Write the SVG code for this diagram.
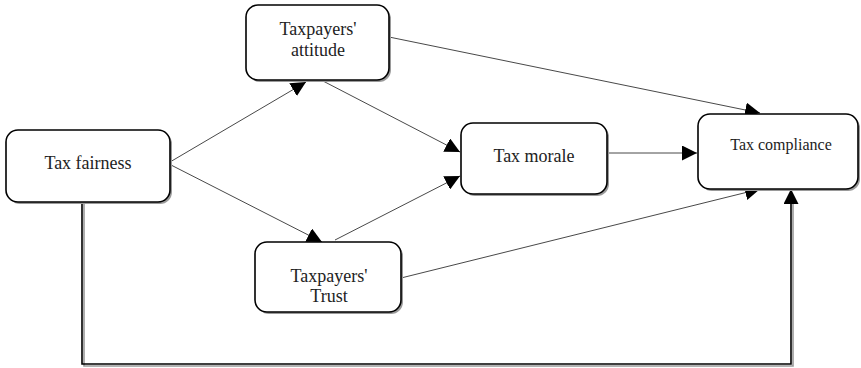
<svg xmlns="http://www.w3.org/2000/svg" width="861" height="368" viewBox="0 0 861 368">
<defs>
<style>
.box{fill:#fff;stroke:#000;stroke-width:1.6}
.sh{fill:#9a9a9a}
text{font-family:'Liberation Serif','Times New Roman',Tinos,'DejaVu Serif',serif;font-size:18px;fill:#222;text-anchor:middle}
.ts{font-size:16px}
.c{fill:none;stroke:#333;stroke-width:0.9}
.e{fill:none;stroke:#000;stroke-width:1.6}
.es{fill:none;stroke:#9a9a9a;stroke-width:1.6}
</style>
<marker id="ah" viewBox="0 0 10 10" refX="10" refY="5" markerWidth="15" markerHeight="15" markerUnits="userSpaceOnUse" orient="auto">
<path d="M0,0 L10,5 L0,10 Z" fill="#000"/>
</marker>
</defs>
<rect width="861" height="368" fill="#fff"/>
<g id="connectors">
<line class="c" x1="170" y1="162" x2="306" y2="82" marker-end="url(#ah)"/>
<line class="c" x1="171" y1="165" x2="322" y2="242" marker-end="url(#ah)"/>
<line class="c" x1="323" y1="81" x2="460" y2="152" marker-end="url(#ah)"/>
<line class="c" x1="335" y1="240" x2="460" y2="176" marker-end="url(#ah)"/>
<line class="c" x1="607" y1="153" x2="697" y2="153" marker-end="url(#ah)"/>
<line class="c" x1="389" y1="37" x2="760" y2="113" marker-end="url(#ah)"/>
<line class="c" x1="401" y1="278" x2="760" y2="189" marker-end="url(#ah)"/>
<polyline class="es" points="84,204 84,366 793,366 793,200"/>
<polyline class="e" points="82,202 82,364 791,364 791,189" marker-end="url(#ah)"/>
</g>
<g id="tax-fairness">
<rect class="sh" x="8" y="132" width="164" height="72" rx="12"/>
<rect class="box" x="6" y="130" width="164" height="72" rx="12"/>
<text x="88" y="169" font-family="Liberation Serif, serif">Tax fairness</text>
</g>
<g id="taxpayers-attitude">
<rect class="sh" x="248" y="7" width="143" height="75" rx="12"/>
<rect class="box" x="246" y="5" width="143" height="75" rx="12"/>
<text x="318" y="35" font-family="Liberation Serif, serif">Taxpayers'</text>
<text x="318" y="56" font-family="Liberation Serif, serif">attitude</text>
</g>
<g id="taxpayers-trust">
<rect class="sh" x="257" y="244" width="146" height="70" rx="12"/>
<rect class="box" x="255" y="242" width="146" height="70" rx="12"/>
<text x="329" y="282" font-family="Liberation Serif, serif">Taxpayers'</text>
<text x="329" y="302" font-family="Liberation Serif, serif">Trust</text>
</g>
<g id="tax-morale">
<rect class="sh" x="463" y="125" width="146" height="71" rx="12"/>
<rect class="box" x="461" y="123" width="146" height="71" rx="12"/>
<text x="534" y="162" font-family="Liberation Serif, serif">Tax morale</text>
</g>
<g id="tax-compliance">
<rect class="sh" x="700" y="116" width="160" height="75" rx="12"/>
<rect class="box" x="698" y="114" width="160" height="75" rx="12"/>
<text class="ts" x="781" y="150" font-family="Liberation Serif, serif">Tax compliance</text>
</g>
</svg>
